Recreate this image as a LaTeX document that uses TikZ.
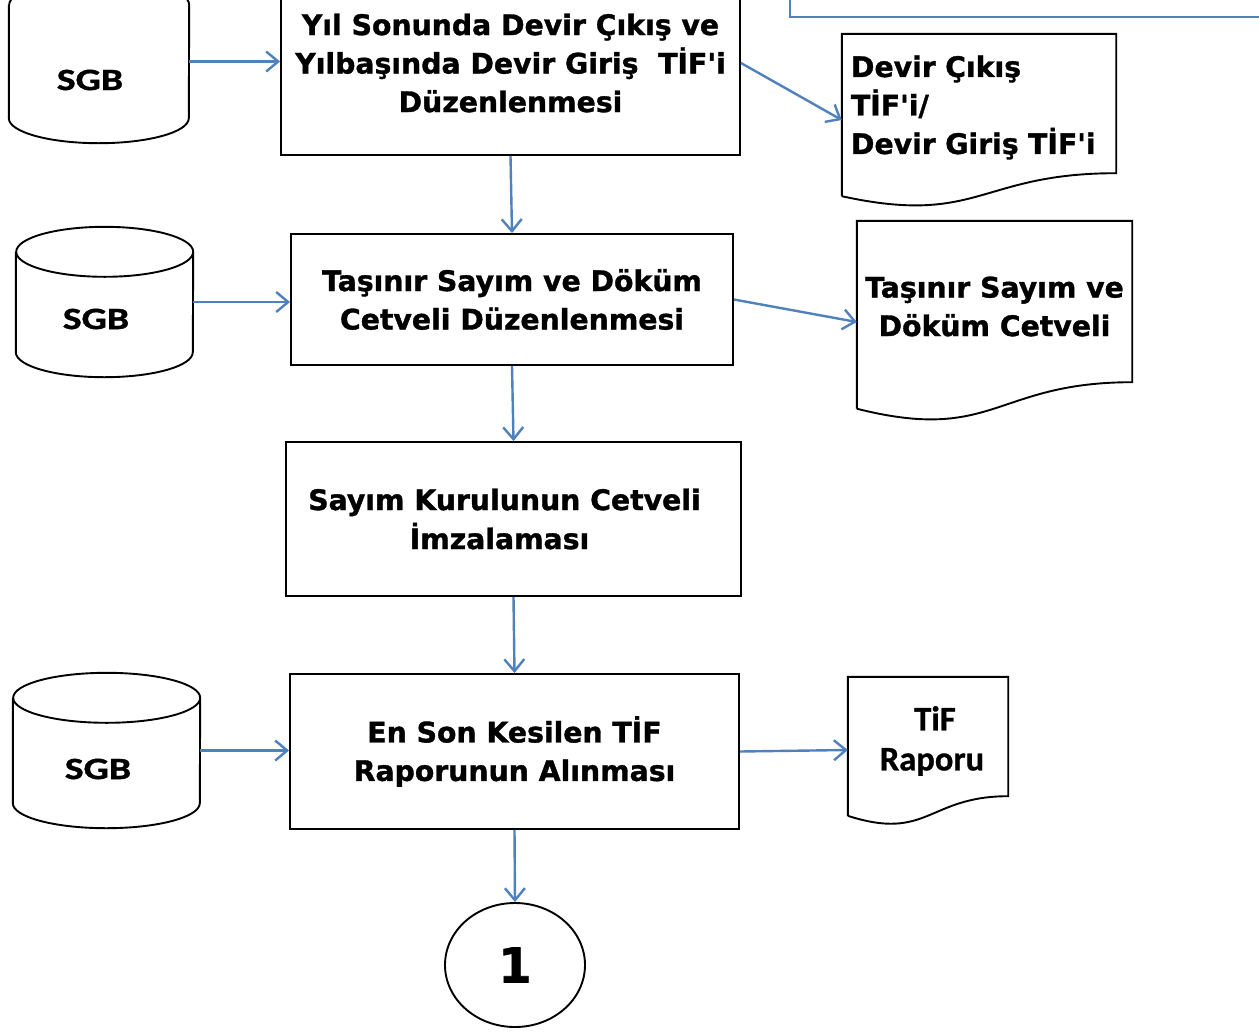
\documentclass[tikz,border=0pt]{standalone}
\usepackage{fontspec}
\setmainfont{DejaVu Sans}[BoldFeatures={FakeBold=1.2}]
\newfontfamily\calfont{Carlito}[BoldFeatures={FakeBold=0.8}]
\newfontfamily\sgbfont{Carlito}[BoldFeatures={FakeBold=1.2,FakeStretch=1.28}]
\usetikzlibrary{arrows.meta,shapes.geometric}
\definecolor{arrblue}{HTML}{4F81BD}
\newcommand{\drawcyl}[2]{%
  \draw[outline] (#1.north west) -- (#1.south west)
    arc[start angle=180,end angle=360,x radius=#2,y radius=25pt]
    -- (#1.north east) arc[start angle=0,end angle=360,x radius=#2,y radius=25pt];}
% #1 node, #2 right-bottom shift, #3 left-bottom shift, #4 lower control shift
\newcommand{\docshape}[4]{%
  \draw[outline] ([yshift=#3]#1.south west) -- (#1.north west) -- (#1.north east)
    -- ([yshift=#2]#1.south east) .. controls ([yshift=#2]#1.south) and ([yshift=#4]#1.south)
    .. ([yshift=#3]#1.south west);}
\newcommand{\q}{\textquotesingle}
\tikzset{
  mainfont/.style={font=\bfseries\fontsize{28.3}{38.5}\selectfont},
  procbox/.style={draw, line width=1.9pt, rectangle, align=center, inner sep=0pt, mainfont},
  docbox/.style={rectangle, inner sep=0pt, mainfont},
  cylbox/.style={rectangle, inner sep=0pt},
  cyltext/.style={inner sep=0pt, font=\sgbfont\bfseries\fontsize{31}{36}\selectfont},
  flow/.style={draw=arrblue, line width=2.4pt, -{Straight Barb[length=12pt,width=20pt]}},
  blueline/.style={draw=arrblue, line width=2.4pt},
  outline/.style={draw, line width=1.9pt},
}
\begin{document}
\begin{tikzpicture}[x=1pt,y=1pt]
\useasboundingbox (0,0) rectangle (1259,-1034);
\clip (0,0) rectangle (1259,-1034);
\fill[white] (0,0) rectangle (1259,-1034);

% process boxes
\node[procbox, minimum width=459pt, minimum height=184pt] (box1) at (510.5,-63)
  {Yıl Sonunda Devir Çıkış ve\\Yılbaşında Devir Giriş\ \ TİF\q i\\Düzenlenmesi};
\node[procbox, minimum width=442pt, minimum height=131pt] (box2) at (512,-299.5)
  {Taşınır Sayım ve Döküm\\Cetveli Düzenlenmesi};
\node[procbox, minimum width=455pt, minimum height=154pt] (box3) at (513.5,-519)
  {Sayım Kurulunun Cetveli\hspace*{18pt}\\[0.5pt]İmzalaması\hspace*{28pt}};
\node[procbox, minimum width=449pt, minimum height=155pt] (box4) at (514.5,-751.5)
  {En Son Kesilen TİF\\Raporunun Alınması};
\node[draw, ellipse, line width=1.9pt, inner sep=0pt, minimum width=140pt, minimum height=124pt,
  font=\bfseries\fontsize{48}{50}\selectfont] (circ) at (515,-965) {1};

% cylinders
\node[cylbox, minimum width=180pt, minimum height=113pt] (sgb1) at (99,-61.5) {};
\draw[outline] (sgb1.north west) -- (sgb1.south west)
  arc[start angle=180,end angle=360,x radius=90pt,y radius=25pt]
  -- (sgb1.north east) arc[start angle=0,end angle=180,x radius=90pt,y radius=25pt];
\node[cyltext] (sgb1t) at ([xshift=-9pt,yshift=-18.5pt]sgb1.center) {SGB};

\node[cylbox, minimum width=177pt, minimum height=100pt] (sgb2) at (104.5,-302) {};
\drawcyl{sgb2}{88.5pt}
\node[cyltext] (sgb2t) at ([xshift=-8.5pt,yshift=-17pt]sgb2.center) {SGB};

\node[cylbox, minimum width=187pt, minimum height=105pt] (sgb3) at (106.5,-750.5) {};
\drawcyl{sgb3}{93.5pt}
\node[cyltext] (sgb3t) at ([xshift=-8.5pt,yshift=-18.5pt]sgb3.center) {SGB};

% documents
\node[docbox, align=left, text width=256pt, inner xsep=9pt, minimum height=147pt] (doc1) at (979,-107.5)
  {Devir Çıkış\\TİF\q i/\\Devir Giriş TİF\q i};
\docshape{doc1}{8pt}{-15pt}{-45pt}
\node[docbox, align=center, minimum width=275pt, minimum height=171pt] (doc2) at (994.5,-306.5)
  {Taşınır Sayım ve\\Döküm Cetveli};
\docshape{doc2}{10pt}{-16.5pt}{-51.3pt}
\node[docbox, align=center, minimum width=160pt, minimum height=128pt,
  font=\calfont\bfseries\fontsize{34.5}{40}\selectfont] (doc3) at (928,-741)
  {\hspace*{14pt}TiF\\\hspace*{8pt}Raporu};
\docshape{doc3}{9pt}{-10.6pt}{-36.4pt}

% top-right connector fragment
\coordinate (tl1) at (790,5);
\coordinate (tl2) at (790,-17);
\coordinate (tl3) at (1265,-17);
\draw[blueline] (tl1) -- (tl2) -- (tl3);

% connectors
\draw[flow] (sgb1.east) -- (sgb1.east -| box1.west);
\draw[flow] (box1.east) -- ([yshift=-12.5pt]doc1.west);
\draw[flow] (box1.south) -- (box2.north);
\draw[flow] (sgb2.east) -- (sgb2.east -| box2.west);
\draw[flow] (box2.east) -- ([yshift=-15.5pt]doc2.west);
\draw[flow] (box2.south) -- (box3.north);
\draw[flow] (box3.south) -- (box4.north);
\draw[flow] (sgb3.east) -- (sgb3.east -| box4.west);
\draw[flow] (box4.east) -- ([yshift=-9pt]doc3.west);
\draw[flow] (box4.south) -- (circ.north);
\end{tikzpicture}
\end{document}
